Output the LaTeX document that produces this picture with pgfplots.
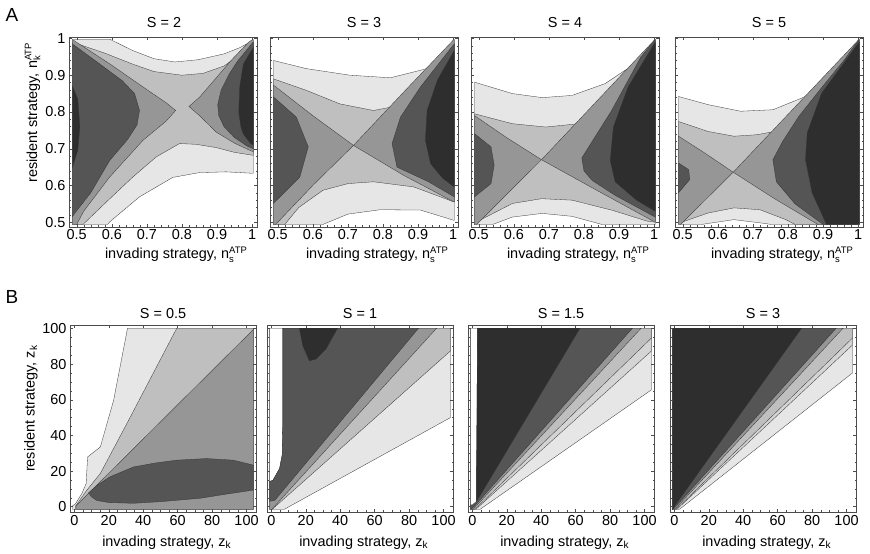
\documentclass[border=0pt]{standalone}
\usepackage{fontspec}
\setmainfont{Liberation Sans}
\usepackage{pgfplots}
\pgfplotsset{compat=1.18}
\definecolor{cA}{HTML}{E6E6E6}
\definecolor{cL}{HTML}{D4D4D4}
\definecolor{cB}{HTML}{BFBFBF}
\definecolor{cC}{HTML}{969696}
\definecolor{cD}{HTML}{555555}
\definecolor{cE}{HTML}{2E2E2E}
\newcommand\fs{\fontsize{14.5}{16}\selectfont}
\newcommand\sm{\fontsize{9.5}{10}\selectfont}
\newcommand\nsub[1]{n\rlap{\raisebox{-0.45ex}{\sm #1}}\raisebox{0.75ex}{\sm ATP}}
\pgfplotsset{
 base/.style={scale only axis, axis on top, tick align=inside, major tick length=3bp, minor tick length=1.5bp,
   tick style={black!70,line width=0.35bp}, axis line style={black!70,line width=0.5bp},
   tick label style={font=\fs}, label style={font=\fs}, /pgf/number format/assume math mode=true},
 pA/.style={base, width=188bp, height=190bp, xmin=0.478,xmax=1.014,ymin=0.487,ymax=1.004,
   xtick={0.5,0.6,0.7,0.8,0.9,1}, ytick={0.5,0.6,0.7,0.8,0.9,1}, minor tick num=4,
   xticklabel style={inner sep=2pt},
   xlabel={invading strategy, \nsub{s}},
   xlabel style={at={(axis description cs:0.569,-0.168)}, anchor=base, inner sep=0pt}},
 pB/.style={base, width=186bp, height=187bp, xmin=-2.5,xmax=105.5,ymin=-3,ymax=102,
   xtick={0,20,40,60,80,100}, ytick={0,20,40,60,80,100}, minor tick num=3,
   xticklabel style={inner sep=3pt},
   xlabel={invading strategy, z\textsubscript{k}},
   xlabel style={at={(axis description cs:0.52,-0.185)}, anchor=base, inner sep=0pt}},
 rg/.style={fill=#1, draw=black!80, line width=0.3bp},
}
\begin{document}
\begin{tikzpicture}[x=1bp,y=1bp]
\useasboundingbox (0,0) rectangle (870,554);
\node[font=\fontsize{19}{21}\selectfont] at (12,539) {A};
\node[font=\fontsize{19}{21}\selectfont] at (12,257) {B};
\node[font=\fs] at (164,531) {S = 2};
\node[font=\fs] at (364,531) {S = 3};
\node[font=\fs] at (565,531) {S = 4};
\node[font=\fs] at (769,531) {S = 5};
\node[font=\fs] at (163,240) {S = 0.5};
\node[font=\fs] at (360,240) {S = 1};
\node[font=\fs] at (561,240) {S = 1.5};
\node[font=\fs] at (763,240) {S = 3};

% ---------- A1 : S = 2
\begin{axis}[pA, at={(69bp,517bp)}, anchor=north west,
  ylabel={resident strategy, \nsub{k}},
  ylabel style={at={(axis description cs:-0.17,0.6)}, anchor=base, inner sep=0pt}]
\addplot[rg=cA] coordinates {(0.488,0.998) (0.594,0.998) (0.66,0.967) (0.72,0.945) (0.78,0.936) (0.845,0.942) (0.92,0.958) (0.965,0.975) (1.003,0.995) (1.003,0.633) (0.985,0.634) (0.926,0.637) (0.85,0.635) (0.774,0.622) (0.679,0.569) (0.594,0.501) (0.588,0.494) (0.488,0.494)} --cycle;
\addplot[rg=cB] coordinates {(0.488,0.99) (0.58,0.96) (0.66,0.93) (0.72,0.91) (0.80,0.90) (0.86,0.905) (0.92,0.925) (0.97,0.96) (1.003,0.99) (1.003,0.682) (0.95,0.69) (0.898,0.703) (0.84,0.712) (0.793,0.714) (0.727,0.678) (0.66,0.623) (0.59,0.56) (0.518,0.494) (0.488,0.494)} --cycle;
\addplot[rg=cC] coordinates {(0.488,0.997) (0.499,0.99) (0.594,0.931) (0.689,0.868) (0.755,0.825) (0.782,0.804) (0.755,0.775) (0.689,0.723) (0.594,0.623) (0.52,0.53) (0.50,0.494) (0.488,0.494)} --cycle;
\addplot[rg=cC] coordinates {(1.003,0.998) (0.99,0.99) (0.94,0.94) (0.898,0.893) (0.85,0.84) (0.82,0.815) (0.85,0.79) (0.898,0.745) (0.95,0.715) (0.988,0.698) (1.003,0.692)} --cycle;
\addplot[rg=cD] coordinates {(0.488,0.985) (0.565,0.931) (0.63,0.885) (0.665,0.85) (0.679,0.804) (0.672,0.765) (0.645,0.725) (0.594,0.668) (0.54,0.58) (0.494,0.524) (0.488,0.515)} --cycle;
\addplot[rg=cD] coordinates {(1.003,0.99) (0.96,0.94) (0.935,0.904) (0.912,0.86) (0.902,0.82) (0.905,0.79) (0.92,0.76) (0.95,0.73) (0.988,0.706) (1.003,0.70)} --cycle;
\addplot[rg=cE] coordinates {(0.488,0.87) (0.503,0.835) (0.509,0.76) (0.503,0.696) (0.488,0.65)} --cycle;
\addplot[rg=cE] coordinates {(1.003,0.975) (0.975,0.93) (0.965,0.87) (0.962,0.80) (0.968,0.76) (0.975,0.74) (0.995,0.715) (1.003,0.71)} --cycle;
\end{axis}

% ---------- A2 : S = 3
\begin{axis}[pA, at={(270bp,517bp)}, anchor=north west, yticklabels={}]
\addplot[rg=cA] coordinates {(0.488,0.94) (0.581,0.918) (0.706,0.9) (0.821,0.893) (0.926,0.918) (0.97,0.955) (1.003,0.995) (1.003,0.505) (0.907,0.533) (0.792,0.534) (0.70,0.522) (0.629,0.494) (0.488,0.494)} --cycle;
\addplot[rg=cB] coordinates {(0.488,0.89) (0.581,0.859) (0.677,0.822) (0.773,0.804) (0.850,0.818) (0.926,0.868) (0.97,0.93) (1.003,0.985) (1.003,0.555) (0.888,0.596) (0.773,0.61) (0.70,0.605) (0.629,0.587) (0.56,0.54) (0.52,0.494) (0.488,0.494)} --cycle;
\addplot[rg=cC] coordinates {(0.488,0.873) (0.60,0.79) (0.716,0.709) (0.60,0.60) (0.494,0.494) (0.488,0.494)} --cycle;
\addplot[rg=cC] coordinates {(1.003,0.998) (0.86,0.855) (0.716,0.709) (0.86,0.627) (1.003,0.555)} --cycle;
\addplot[rg=cD] coordinates {(0.488,0.841) (0.553,0.786) (0.587,0.705) (0.563,0.623) (0.488,0.551)} --cycle;
\addplot[rg=cD] coordinates {(1.003,0.985) (0.907,0.868) (0.85,0.786) (0.826,0.714) (0.84,0.65) (0.93,0.61) (1.003,0.569)} --cycle;
\addplot[rg=cE] coordinates {(1.003,0.967) (0.955,0.886) (0.926,0.804) (0.921,0.723) (0.936,0.659) (0.97,0.62) (1.003,0.596)} --cycle;
\end{axis}

% ---------- A3 : S = 4
\begin{axis}[pA, at={(471bp,517bp)}, anchor=north west, yticklabels={}]
\addplot[rg=cA] coordinates {(0.488,0.881) (0.596,0.85) (0.681,0.839) (0.766,0.845) (0.86,0.877) (0.945,0.931) (0.98,0.965) (1.003,0.995) (1.003,0.494) (0.851,0.494) (0.766,0.516) (0.681,0.524) (0.596,0.514) (0.54,0.494) (0.488,0.494)} --cycle;
\addplot[rg=cB] coordinates {(0.488,0.795) (0.596,0.768) (0.691,0.759) (0.785,0.768) (0.879,0.804) (0.93,0.86) (0.97,0.925) (1.003,0.99) (1.003,0.50) (0.98,0.503) (0.879,0.533) (0.766,0.56) (0.679,0.564) (0.596,0.551) (0.492,0.50) (0.488,0.494)} --cycle;
\addplot[rg=cC] coordinates {(0.488,0.79) (0.58,0.73) (0.679,0.67) (0.494,0.494) (0.488,0.494)} --cycle;
\addplot[rg=cC] coordinates {(1.003,0.998) (0.679,0.67) (0.84,0.585) (1.003,0.50)} --cycle;
\addplot[rg=cD] coordinates {(0.488,0.741) (0.535,0.705) (0.544,0.655) (0.535,0.605) (0.488,0.569)} --cycle;
\addplot[rg=cD] coordinates {(1.003,0.997) (0.962,0.949) (0.879,0.804) (0.794,0.675) (0.80,0.64) (0.823,0.614) (0.889,0.573) (1.003,0.514)} --cycle;
\addplot[rg=cE] coordinates {(1.003,0.99) (0.926,0.868) (0.884,0.759) (0.875,0.668) (0.889,0.61) (0.95,0.56) (1.003,0.53)} --cycle;
\end{axis}

% ---------- A4 : S = 5
\begin{axis}[pA, at={(675bp,517bp)}, anchor=north west, yticklabels={}]
\addplot[rg=cA] coordinates {(0.488,0.842) (0.572,0.82) (0.665,0.802) (0.757,0.806) (0.85,0.842) (0.924,0.906) (0.961,0.947) (1.003,0.995) (1.003,0.494) (0.75,0.494) (0.739,0.496) (0.646,0.507) (0.554,0.494) (0.488,0.494)} --cycle;
\addplot[rg=cB] coordinates {(0.488,0.774) (0.572,0.747) (0.646,0.734) (0.711,0.738) (0.785,0.751) (0.85,0.79) (0.92,0.87) (0.96,0.925) (1.003,0.99) (1.003,0.494) (0.82,0.494) (0.794,0.507) (0.72,0.534) (0.646,0.539) (0.572,0.525) (0.488,0.497)} --cycle;
\addplot[rg=cC] coordinates {(0.488,0.734) (0.56,0.69) (0.644,0.636) (0.494,0.494) (0.488,0.494)} --cycle;
\addplot[rg=cC] coordinates {(1.003,0.998) (0.644,0.636) (0.76,0.565) (0.885,0.494) (1.003,0.494)} --cycle;
\addplot[rg=cD] coordinates {(0.488,0.661) (0.517,0.643) (0.52,0.616) (0.488,0.58)} --cycle;
\addplot[rg=cD] coordinates {(1.003,0.998) (0.961,0.942) (0.895,0.865) (0.831,0.788) (0.785,0.72) (0.757,0.67) (0.767,0.61) (0.82,0.55) (0.90,0.494) (1.003,0.494)} --cycle;
\addplot[rg=cE] coordinates {(1.003,0.99) (0.98,0.96) (0.896,0.851) (0.855,0.743) (0.85,0.67) (0.869,0.58) (0.91,0.494) (1.003,0.494)} --cycle;
\end{axis}

% ---------- B1 : S = 0.5
\begin{axis}[pB, at={(70bp,229bp)}, anchor=north west,
  ylabel={resident strategy, z\textsubscript{k}},
  ylabel style={at={(axis description cs:-0.19,0.553)}, anchor=base, inner sep=0pt}]
\addplot[rg=cA] coordinates {(-1,-1.5) (-1,0.5) (0.6,1.5) (4.4,7.4) (6.9,13) (7.7,27.9) (15.1,33.5) (22.8,59.6) (30.9,100.2) (104,100.2) (104,-1.5)} --cycle;
\addplot[rg=cB] coordinates {(0.5,0) (7.3,9.3) (15.1,18.6) (30.5,46.6) (59.5,100.2) (104,100.2) (104,-1.5) (0.5,-1.5)} --cycle;
\addplot[rg=cC] coordinates {(1,0.5) (104,99.5) (104,-1.5) (1,-1.5)} --cycle;
\addplot[rg=cD] coordinates {(8.3,7.8) (14,12.5) (20.8,16.8) (34.4,22.3) (47,24.5) (59.5,26.1) (76.8,27) (92.3,26.1) (104,23.3) (104,9.3) (88,7) (73,4.7) (50,2.8) (34.4,1.9) (20,2.3) (13,3.5) (10,5.5)} --cycle;
\end{axis}

% ---------- B2 : S = 1
\begin{axis}[pB, at={(267bp,229bp)}, anchor=north west, yticklabels={}]
\addplot[rg=cA] coordinates {(-1,-1.5) (7.5,-1.5) (104,50) (104,100.2) (-1,100.2)} --cycle;
\addplot[rg=cB] coordinates {(-1,-1.5) (0.5,-1.5) (104,87.4) (104,100.2) (-1,100.2)} --cycle;
\addplot[rg=cC] coordinates {(-1,-1.5) (0.3,-1.5) (96,100.2) (-1,100.2)} --cycle;
\addplot[rg=white] coordinates {(-1,100.2) (6.7,100.2) (6.7,47.5) (6.3,28.9) (4.8,21.4) (1,14.9) (-1,14)} --cycle;
\addplot[rg=cD] coordinates {(6.7,100.2) (85.5,100.2) (2,3.5) (-1,3) (-1,14) (1,14.9) (4.8,21.4) (6.3,28.9) (6.7,47.5)} --cycle;
\addplot[rg=cE] coordinates {(16.3,100.2) (18.3,90.3) (22.1,81.9) (26,82.9) (31.7,88.5) (38.5,100.2)} --cycle;
\end{axis}

% ---------- B3 : S = 1.5
\begin{axis}[pB, at={(468bp,229bp)}, anchor=north west, yticklabels={}]
\addplot[rg=cA] coordinates {(-1,-1.5) (4.5,-1.5) (104,65.6) (104,100.2) (-1,100.2)} --cycle;
\addplot[rg=cL] coordinates {(-1,-1.5) (2,-1.5) (104,87.4) (104,100.2) (-1,100.2)} --cycle;
\addplot[rg=cB] coordinates {(-1,-1.5) (1.5,-1.5) (104,94.7) (104,100.2) (-1,100.2)} --cycle;
\addplot[rg=cC] coordinates {(-1,-1.5) (1,-1) (98,100.2) (-1,100.2)} --cycle;
\addplot[rg=cD] coordinates {(-1,-1.5) (1,0) (93,100.2) (-1,100.2)} --cycle;
\addplot[rg=white] coordinates {(-1,100.2) (3,100.2) (2.5,20) (2.5,3) (0,1) (-1,1)} --cycle;
\addplot[rg=cE] coordinates {(3,100.2) (62.5,100.2) (2.5,3) (2.5,20)} --cycle;
\end{axis}

% ---------- B4 : S = 3
\begin{axis}[pB, at={(670bp,229bp)}, anchor=north west, yticklabels={}]
\addplot[rg=cA] coordinates {(-1,-1.5) (3,-1.5) (103.5,75.1) (103.5,100.2) (-1,100.2)} --cycle;
\addplot[rg=cL] coordinates {(-1,-1.5) (1.5,-1.5) (103.5,90.8) (103.5,100.2) (-1,100.2)} --cycle;
\addplot[rg=cB] coordinates {(-1,-1.5) (1,-1.5) (103.5,94.7) (103.5,100.2) (-1,100.2)} --cycle;
\addplot[rg=cC] coordinates {(-1,-1.5) (0.8,-1) (98,100.2) (-1,100.2)} --cycle;
\addplot[rg=cD] coordinates {(-1,-1.5) (0.8,0) (94,100.2) (-1,100.2)} --cycle;
\addplot[rg=cE] coordinates {(-1,-1.5) (1,1.5) (73.9,100.2) (-1,100.2)} --cycle;
\end{axis}
\end{tikzpicture}
\end{document}
